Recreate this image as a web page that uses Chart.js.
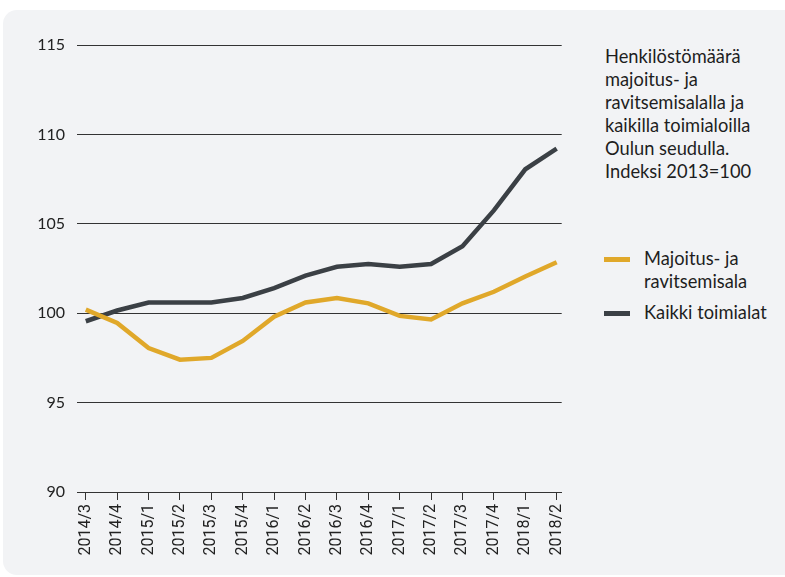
<!DOCTYPE html>
<html>
<head>
<meta charset="utf-8">
<script src="https://cdn.jsdelivr.net/npm/chart.js@4/dist/chart.umd.min.js"></script>
<style>
  html, body { margin: 0; padding: 0; background: #ffffff; }
  body { width: 785px; height: 577px; position: relative; overflow: hidden; font-family: Lato, sans-serif; }
  #panel { position: absolute; left: 3px; top: 10px; width: 800px; height: 565px; background: #f2f3f5; border-radius: 14px; }
  #wrap { position: absolute; left: 0; top: 0; width: 580px; height: 577px; }
  #title { position: absolute; left: 605px; top: 45px; font-size: 18.3px; line-height: 23px; color: #1e1e1e; }
  .leg { position: absolute; left: 604px; font-size: 18.3px; line-height: 23px; color: #1e1e1e; }
  .leg .sw { position: absolute; left: 0; width: 26px; height: 5px; }
  .leg .tx { position: absolute; left: 40px; white-space: nowrap; }
</style>
</head>
<body>
<div id="panel"></div>
<div id="wrap"><canvas id="chart-linja" width="580" height="577"></canvas></div>
<div id="title">Henkilöstömäärä<br>majoitus- ja<br>ravitsemisalalla ja<br>kaikilla toimialoilla<br>Oulun seudulla.<br>Indeksi 2013=100</div>
<div class="leg" style="top:247px"><div class="sw" style="top:10px;background:#e0a82a"></div><div class="tx">Majoitus- ja<br>ravitsemisala</div></div>
<div class="leg" style="top:301px"><div class="sw" style="top:10px;background:#3b4045"></div><div class="tx">Kaikki toimialat</div></div>
<script>
const kvartaalit = ["2014/3", "2014/4", "2015/1", "2015/2", "2015/3", "2015/4", "2016/1", "2016/2",
                    "2016/3", "2016/4", "2017/1", "2017/2", "2017/3", "2017/4", "2018/1", "2018/2"];
const majoitus = [100.2, 99.45, 98.05, 97.4, 97.5, 98.45, 99.8, 100.6, 100.85, 100.55, 99.85, 99.65, 100.55, 101.2, 102.05, 102.85];
const kaikki = [99.55, 100.15, 100.6, 100.6, 100.6, 100.85, 101.4, 102.1, 102.6, 102.75, 102.6, 102.75, 103.75, 105.75, 108.05, 109.2];
const yTicks = [90, 95, 100, 105, 110, 115];

const pisteet = arr => arr.map((v, i) => ({ x: i, y: v }));

document.addEventListener("DOMContentLoaded", () => {
    const ctx = document.getElementById("chart-linja").getContext("2d");

    new Chart(ctx, {
        type: "line",
        data: {
            datasets: [
                { label: "Majoitus- ja ravitsemisala", data: pisteet(majoitus), borderColor: "#e0a82a", borderWidth: 4.5, pointRadius: 0, tension: 0, fill: false },
                { label: "Kaikki toimialat", data: pisteet(kaikki), borderColor: "#3b4045", borderWidth: 4.5, pointRadius: 0, tension: 0, fill: false }
            ]
        },
        options: {
            responsive: false,
            animation: false,
            layout: { padding: { top: 45, right: 13, left: 0, bottom: 0 } },
            plugins: { legend: { display: false }, tooltip: { enabled: false } },
            scales: {
                x: {
                    type: "linear",
                    min: -0.28,
                    max: 15.16,
                    afterBuildTicks: s => { s.ticks = kvartaalit.map((_, i) => ({ value: i })); },
                    afterFit: s => { s.height = 85; },
                    ticks: {
                        callback: v => kvartaalit[v],
                        autoSkip: false,
                        maxRotation: 90,
                        minRotation: 90,
                        padding: 4,
                        color: "#222",
                        font: { family: "Roboto", size: 16 }
                    },
                    grid: { drawOnChartArea: false, drawTicks: true, tickLength: 8, color: "#333" },
                    border: { display: true, color: "#333", width: 1 }
                },
                y: {
                    min: 90,
                    max: 115,
                    afterBuildTicks: s => { s.ticks = yTicks.map(v => ({ value: v })); },
                    afterFit: s => { s.width = 77; },
                    ticks: { padding: 12, color: "#222", font: { family: "Lato", size: 16 } },
                    grid: { color: "#333", lineWidth: 1, drawTicks: false },
                    border: { display: false }
                }
            }
        }
    });
});
</script>
</body>
</html>
